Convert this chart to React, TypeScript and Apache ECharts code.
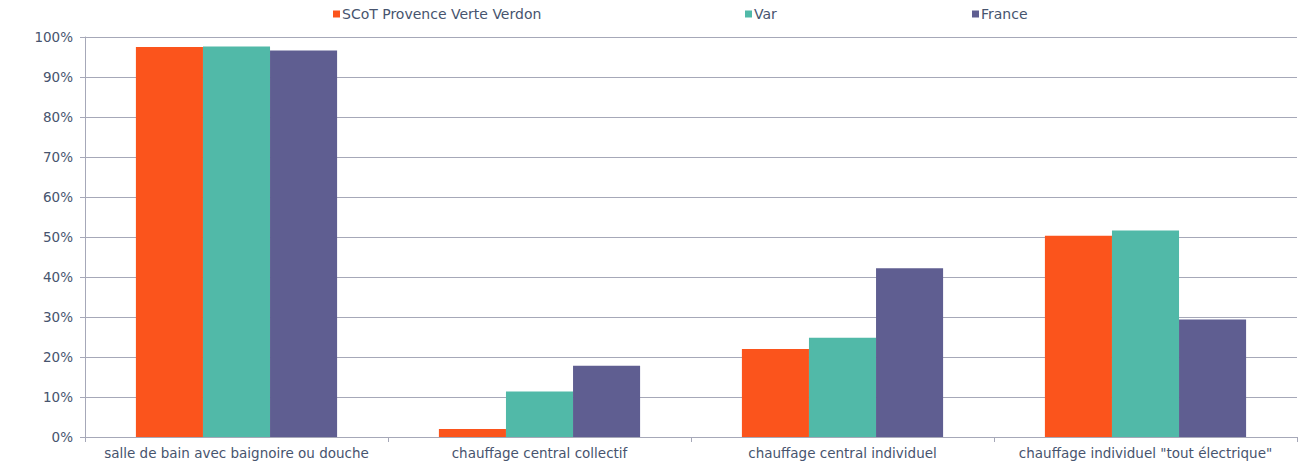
import React, { useEffect, useRef } from "react";
import * as echarts from "echarts";

const categories = [
  "salle de bain avec baignoire ou douche",
  "chauffage central collectif",
  "chauffage central individuel",
  'chauffage individuel "tout électrique"',
];
const scotValues = [97.5, 2.0, 22.0, 50.3];
const varValues = [97.6, 11.4, 24.8, 51.6];
const franceValues = [96.6, 17.8, 42.2, 29.4];
const seriesNames = ["SCoT Provence Verte Verdon", "Var", "France"];
const colors = ["#fb541c", "#51b9a8", "#5f5e91"];

const textColor = "#47546e";
const font = "DejaVu Sans";

export default function App() {
  const ref = useRef<HTMLDivElement>(null);
  useEffect(() => {
    if (!ref.current) return;
    const chart = echarts.init(ref.current, undefined, { renderer: "svg" });
    const legendPos = [333, 745, 972];
    chart.setOption({
      animation: false,
      legend: seriesNames.map((n, i) => ({
        data: [n],
        left: legendPos[i],
        top: 7,
        itemWidth: 7,
        itemHeight: 7,
        itemGap: 0,
        icon: "rect",
        padding: 0,
        textStyle: {
          color: textColor,
          fontFamily: font,
          fontSize: 14,
          padding: [0, 0, 0, -3],
        },
      })),
      grid: { left: 85, right: 10, top: 37, bottom: 33, containLabel: false },
      xAxis: {
        type: "category",
        data: categories,
        axisLine: { lineStyle: { color: "#a6a8b8", width: 1 } },
        axisTick: { show: true, interval: 0, alignWithLabel: false, length: 5, lineStyle: { color: "#a6a8b8" } },
        axisLabel: { interval: 0, color: textColor, fontFamily: font, fontSize: 13.5, margin: 9 },
      },
      yAxis: {
        type: "value",
        min: 0,
        max: 100,
        interval: 10,
        axisLine: { show: true, lineStyle: { color: "#a6a8b8", width: 1 } },
        axisTick: { show: true, length: 5, lineStyle: { color: "#a6a8b8" } },
        splitLine: { lineStyle: { color: "#a6a8b8", width: 1 } },
        axisLabel: { color: textColor, fontFamily: font, fontSize: 13.5, margin: 12, formatter: "{value}%" },
      },
      series: [scotValues, varValues, franceValues].map((d, i) => ({
        name: seriesNames[i],
        type: "bar",
        data: d,
        barGap: "0%",
        barCategoryGap: "33.6%",
        itemStyle: { color: colors[i] },
      })),
    });
    return () => chart.dispose();
  }, []);
  return (
    <div
      ref={ref}
      style={{ position: "absolute", left: 0, top: 0, width: 1307, height: 470 }}
    />
  );
}
